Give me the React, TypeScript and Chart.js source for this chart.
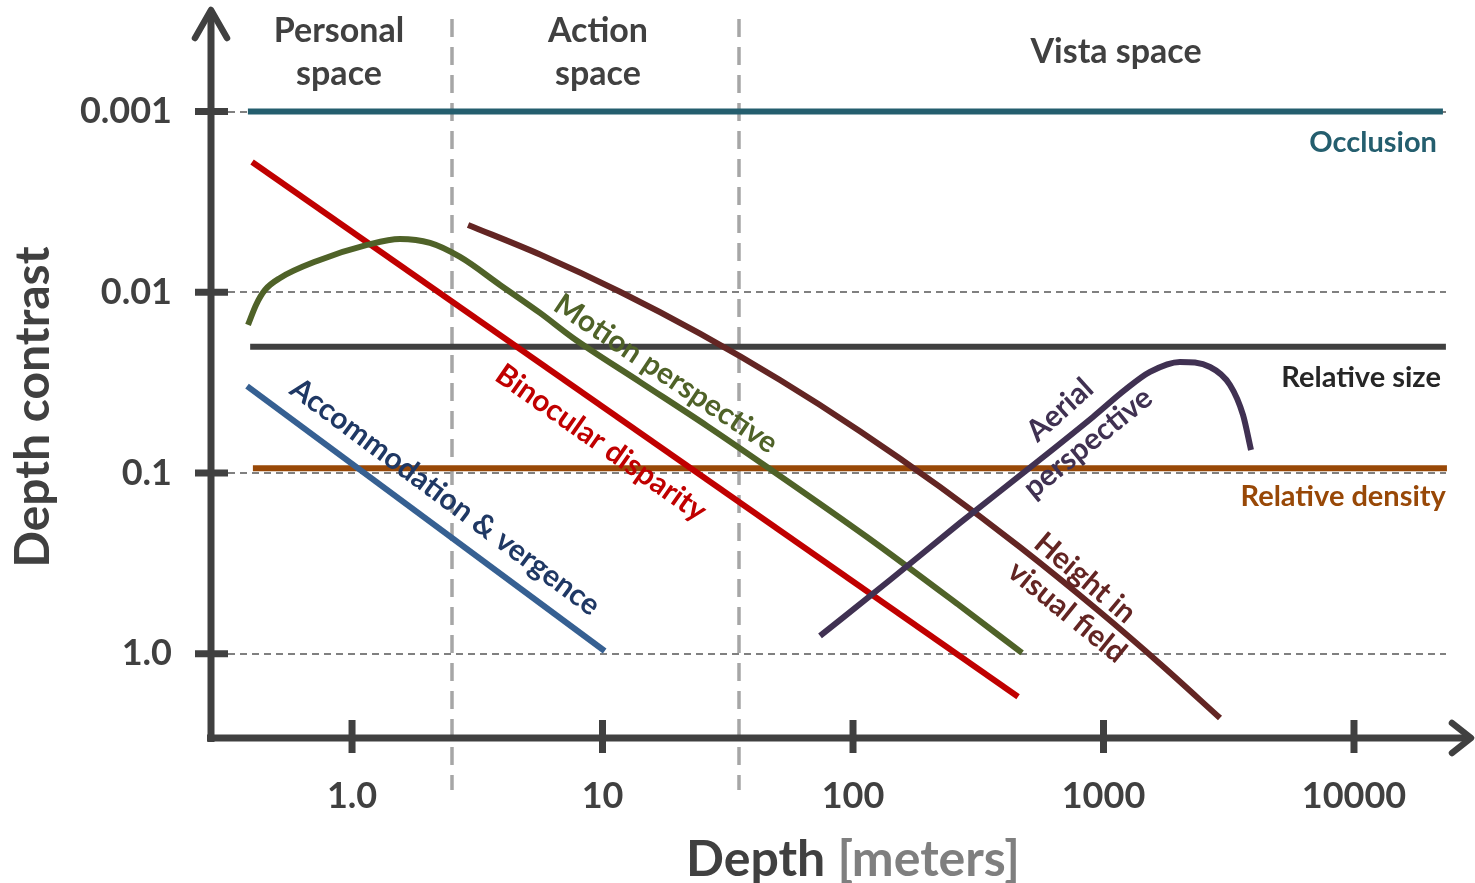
import React, { useEffect, useRef } from 'react';
import { Chart, registerables } from 'chart.js';

Chart.register(...registerables);

// ---- axes ----
const X_TICKS = [1, 10, 100, 1000, 10000];
const X_TICK_LABELS = ['1.0', '10', '100', '1000', '10000'];
const Y_TICKS = [0.001, 0.01, 0.1, 1];
const Y_TICK_LABELS = ['0.001', '0.01', '0.1', '1.0'];
const X_MIN = 0.271;
const X_MAX = 29050;
const Y_MIN = 0.000292;
const Y_MAX = 3.0;
const SPACE_DIVIDERS = [2.5, 35];
const GRID_END = 23300;

// ---- series (depth in meters, depth contrast) ----
const OCCLUSION_X = [0.384, 22650];
const OCCLUSION_Y = [0.001, 0.001];
const REL_SIZE_X = [0.392, 23280];
const REL_SIZE_Y = [0.02, 0.02];
const REL_DENSITY_X = [0.402, 23500];
const REL_DENSITY_Y = [0.094, 0.094];
const BINOCULAR_X = [0.399, 456];
const BINOCULAR_Y = [0.0019, 1.73];
const ACCOMMODATION_X = [0.381, 10.2];
const ACCOMMODATION_Y = [0.033, 0.965];
const MOTION_X = [0.3844, 0.4137, 0.4494, 0.5161, 0.7249, 1.148, 1.554, 2.048, 2.699, 3.898, 5.63, 7.625, 14.11, 26.14, 45.37, 113.7, 267.4, 472.8];
const MOTION_Y = [0.01515, 0.01174, 0.009698, 0.008326, 0.006704, 0.005466, 0.005064, 0.005329, 0.00637, 0.0091, 0.013, 0.01788, 0.03131, 0.05485, 0.09252, 0.2258, 0.5437, 0.9899];
const HEIGHT_X = [2.905, 5.63, 11.74, 24.51, 51.1, 106.6, 222.5, 464.2, 968.3, 1681, 2918];
const HEIGHT_Y = [0.004236, 0.006176, 0.009924, 0.01693, 0.03057, 0.05862, 0.1192, 0.2571, 0.5878, 1.136, 2.269];
const AERIAL_X = [73.85, 140.5, 267.4, 495.0, 908.0, 1218, 1533, 2020, 2662, 3199, 3605, 3880];
const AERIAL_Y = [0.7969, 0.3905, 0.1888, 0.09612, 0.04893, 0.03469, 0.02757, 0.02428, 0.02588, 0.03255, 0.0477, 0.07451];

const zip = (xs: number[], ys: number[]) => xs.map((x, i) => ({ x, y: ys[i] }));

const FONT = 'Lato, "Open Sans", sans-serif';
const AXIS_COLOR = '#404040';

type Ann = {
  text: string; x: number; y: number; size: number; color: string;
  align: CanvasTextAlign; baseline: CanvasTextBaseline; angle: number;
};

const ANNOTATIONS: Ann[] = [
  { text: 'Personal', x: 0.887, y: 4.11e-4, size: 34, color: AXIS_COLOR, align: 'center', baseline: 'alphabetic', angle: 0 },
  { text: 'space', x: 0.887, y: 7.11e-4, size: 34, color: AXIS_COLOR, align: 'center', baseline: 'alphabetic', angle: 0 },
  { text: 'Action', x: 9.59, y: 4.11e-4, size: 34, color: AXIS_COLOR, align: 'center', baseline: 'alphabetic', angle: 0 },
  { text: 'space', x: 9.59, y: 7.11e-4, size: 34, color: AXIS_COLOR, align: 'center', baseline: 'alphabetic', angle: 0 },
  { text: 'Vista space', x: 1122, y: 5.37e-4, size: 34, color: AXIS_COLOR, align: 'center', baseline: 'alphabetic', angle: 0 },
  { text: 'Occlusion', x: 21440, y: 1.67e-3, size: 29, color: '#245E6E', align: 'right', baseline: 'alphabetic', angle: 0 },
  { text: 'Relative size', x: 22230, y: 0.0334, size: 29, color: '#262626', align: 'right', baseline: 'alphabetic', angle: 0 },
  { text: 'Relative density', x: 23280, y: 0.152, size: 29, color: '#984807', align: 'right', baseline: 'alphabetic', angle: 0 },
  { text: 'Accommodation & vergence', x: 2.35, y: 0.1356, size: 30, color: '#1F3864', align: 'center', baseline: 'middle', angle: 36.5 },
  { text: 'Binocular disparity', x: 9.86, y: 0.0681, size: 30, color: '#C00000', align: 'center', baseline: 'middle', angle: 35 },
  { text: 'Motion perspective', x: 17.9, y: 0.0283, size: 30, color: '#4F6228', align: 'center', baseline: 'middle', angle: 33.7 },
  { text: 'Height in', x: 844, y: 0.3805, size: 30, color: '#632523', align: 'center', baseline: 'middle', angle: 40 },
  { text: 'visual field', x: 715, y: 0.587, size: 30, color: '#632523', align: 'center', baseline: 'middle', angle: 39 },
  { text: 'Aerial', x: 670, y: 0.0448, size: 30, color: '#403152', align: 'center', baseline: 'middle', angle: -42 },
  { text: 'perspective', x: 867, y: 0.0681, size: 30, color: '#403152', align: 'center', baseline: 'middle', angle: -39 },
];

const decorPlugin = {
  id: 'depthDecor',
  beforeDatasetsDraw(chart: any) {
    const { ctx, chartArea: a, scales } = chart;
    const xs = scales.x, ys = scales.y;
    ctx.save();
    // horizontal dashed gridlines
    ctx.strokeStyle = '#808080';
    ctx.lineWidth = 2;
    ctx.setLineDash([7, 5]);
    const gx1 = xs.getPixelForValue(GRID_END);
    Y_TICKS.forEach((v) => {
      const py = Math.round(ys.getPixelForValue(v));
      ctx.beginPath();
      ctx.moveTo(a.left + 18, py);
      ctx.lineTo(gx1, py);
      ctx.stroke();
    });
    // vertical space dividers
    ctx.strokeStyle = '#A6A6A6';
    ctx.lineWidth = 3.5;
    ctx.setLineDash([18, 10]);
    SPACE_DIVIDERS.forEach((v) => {
      const px = Math.round(xs.getPixelForValue(v));
      ctx.beginPath();
      ctx.moveTo(px, a.top + 4);
      ctx.lineTo(px, a.bottom + 50);
      ctx.stroke();
    });
    ctx.setLineDash([]);
    // axes
    const ax = a.left + 1;
    const ay = a.bottom - 2;
    ctx.strokeStyle = AXIS_COLOR;
    ctx.lineWidth = 7;
    ctx.lineCap = 'butt';
    ctx.beginPath();
    ctx.moveTo(ax, ay + 4);
    ctx.lineTo(ax, a.top - 4);
    ctx.stroke();
    ctx.beginPath();
    ctx.moveTo(ax - 4, ay);
    ctx.lineTo(a.right, ay);
    ctx.stroke();
    // tick marks
    Y_TICKS.forEach((v) => {
      const py = ys.getPixelForValue(v);
      ctx.beginPath();
      ctx.moveTo(ax - 16, py);
      ctx.lineTo(ax + 17, py);
      ctx.stroke();
    });
    X_TICKS.forEach((v) => {
      const px = xs.getPixelForValue(v);
      ctx.beginPath();
      ctx.moveTo(px, ay - 18);
      ctx.lineTo(px, ay + 15);
      ctx.stroke();
    });
    // arrows
    ctx.lineWidth = 6.5;
    ctx.lineCap = 'round';
    ctx.lineJoin = 'round';
    ctx.beginPath();
    ctx.moveTo(ax - 16, a.top + 23);
    ctx.lineTo(ax, a.top - 5);
    ctx.lineTo(ax + 16, a.top + 23);
    ctx.stroke();
    ctx.beginPath();
    ctx.moveTo(a.right - 18, ay - 15);
    ctx.lineTo(a.right + 1, ay);
    ctx.lineTo(a.right - 18, ay + 15);
    ctx.stroke();
    ctx.restore();
  },
  afterDatasetsDraw(chart: any) {
    const { ctx, scales } = chart;
    const xs = scales.x, ys = scales.y;
    ctx.save();
    ANNOTATIONS.forEach((t) => {
      const px = xs.getPixelForValue(t.x);
      const py = ys.getPixelForValue(t.y);
      ctx.save();
      ctx.translate(px, py);
      ctx.rotate((t.angle * Math.PI) / 180);
      ctx.font = `bold ${t.size}px ${FONT}`;
      ctx.fillStyle = t.color;
      ctx.textAlign = t.align;
      ctx.textBaseline = t.baseline;
      ctx.fillText(t.text, 0, 0);
      ctx.restore();
    });
    // x title
    ctx.font = `bold 50px ${FONT}`;
    ctx.textBaseline = 'alphabetic';
    ctx.textAlign = 'left';
    const p1 = 'Depth ';
    const p2 = '[meters]';
    const w1 = ctx.measureText(p1).width;
    const w2 = ctx.measureText(p2).width;
    const sx = 853 - (w1 + w2) / 2;
    ctx.fillStyle = AXIS_COLOR;
    ctx.fillText(p1, sx, 876);
    ctx.fillStyle = '#7F7F7F';
    ctx.fillText(p2, sx + w1, 876);
    // y title
    ctx.save();
    ctx.translate(49, 407);
    ctx.rotate(-Math.PI / 2);
    ctx.font = `bold 48px ${FONT}`;
    ctx.fillStyle = AXIS_COLOR;
    ctx.textAlign = 'center';
    ctx.fillText('Depth contrast', 0, 0);
    ctx.restore();
    ctx.restore();
  },
};

function line(label: string, xs: number[], ys: number[], color: string, order: number, curved: boolean) {
  return {
    label,
    data: zip(xs, ys),
    borderColor: color,
    backgroundColor: color,
    borderWidth: 6,
    pointRadius: 0,
    pointHoverRadius: 0,
    fill: false,
    order,
    cubicInterpolationMode: curved ? 'monotone' : 'default',
    tension: 0,
  };
}

const noPad = (s: any) => {
  s.paddingTop = 0;
  s.paddingBottom = 0;
  s.paddingLeft = 0;
  s.paddingRight = 0;
};

export default function App() {
  const ref = useRef<HTMLCanvasElement>(null);
  useEffect(() => {
    const tickFont = { family: FONT, size: 36, weight: 'bold' as const };
    const chart = new Chart(ref.current as HTMLCanvasElement, {
      type: 'line',
      data: {
        datasets: [
          line('Aerial perspective', AERIAL_X, AERIAL_Y, '#403152', 1, true),
          line('Height in visual field', HEIGHT_X, HEIGHT_Y, '#632523', 2, true),
          line('Motion perspective', MOTION_X, MOTION_Y, '#4F6228', 3, true),
          line('Binocular disparity', BINOCULAR_X, BINOCULAR_Y, '#C00000', 4, false),
          line('Accommodation & vergence', ACCOMMODATION_X, ACCOMMODATION_Y, '#366092', 5, false),
          line('Relative density', REL_DENSITY_X, REL_DENSITY_Y, '#984807', 6, false),
          line('Relative size', REL_SIZE_X, REL_SIZE_Y, '#404040', 7, false),
          line('Occlusion', OCCLUSION_X, OCCLUSION_Y, '#245E6E', 8, false),
        ] as any,
      },
      options: {
        responsive: false,
        animation: false,
        devicePixelRatio: 1,
        events: [],
        layout: { padding: { top: 15, right: 5, left: 0, bottom: 0 }, autoPadding: false },
        plugins: { legend: { display: false }, tooltip: { enabled: false } },
        scales: {
          x: {
            type: 'logarithmic',
            min: X_MIN,
            max: X_MAX,
            bounds: 'data',
            grid: { display: false, drawTicks: false },
            border: { display: false },
            afterBuildTicks: (s: any) => { s.ticks = X_TICKS.map((v) => ({ value: v })); },
            afterFit: (s: any) => { s.height = 143; noPad(s); },
            ticks: {
              autoSkip: false,
              maxRotation: 0,
              minRotation: 0,
              padding: 35,
              color: AXIS_COLOR,
              font: tickFont,
              callback: (_v: any, i: number) => X_TICK_LABELS[i],
            },
          },
          y: {
            type: 'logarithmic',
            reverse: true,
            min: Y_MIN,
            max: Y_MAX,
            bounds: 'data',
            grid: { display: false, drawTicks: false },
            border: { display: false },
            afterBuildTicks: (s: any) => { s.ticks = Y_TICKS.map((v) => ({ value: v })); },
            afterFit: (s: any) => { s.width = 210; noPad(s); },
            ticks: {
              autoSkip: false,
              padding: 38,
              color: AXIS_COLOR,
              font: tickFont,
              callback: (_v: any, i: number) => Y_TICK_LABELS[i],
            },
          },
        },
      } as any,
      plugins: [decorPlugin],
    });
    return () => chart.destroy();
  }, []);
  return (
    <div style={{ position: 'absolute', left: 0, top: 0, width: 1475, height: 883, background: '#ffffff' }}>
      <canvas ref={ref} width={1475} height={883} style={{ display: 'block' }} />
    </div>
  );
}
